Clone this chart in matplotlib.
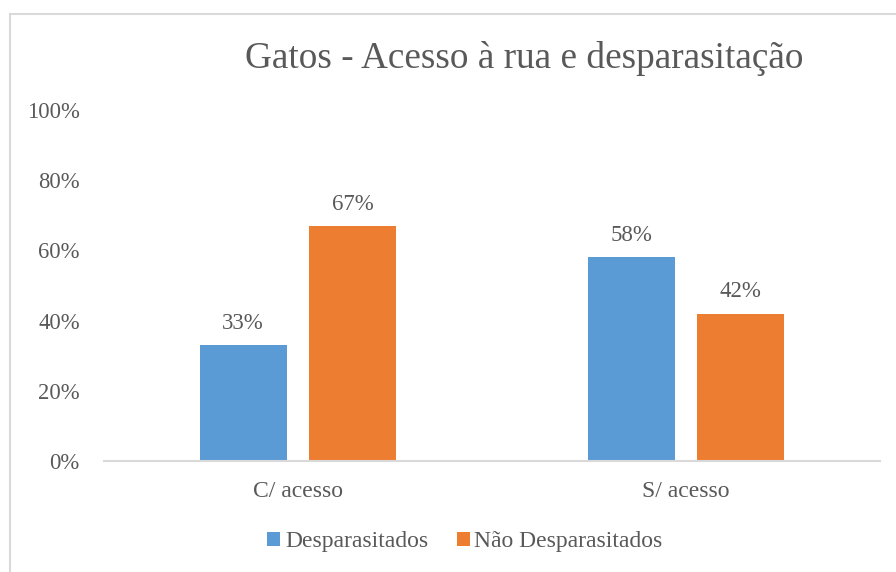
import matplotlib
matplotlib.use("Agg")
import matplotlib.pyplot as plt
from matplotlib.patches import Rectangle
import numpy as np

categories = ["C/ acesso", "S/ acesso"]
series_names = ["Desparasitados", "Não Desparasitados"]
desparasitados = [0.33, 0.58]
nao_desparasitados = [0.67, 0.42]
yticks = [0, 0.2, 0.4, 0.6, 0.8, 1.0]
ytick_labels = ["0%", "20%", "40%", "60%", "80%", "100%"]
title = "Gatos - Acesso à rua e desparasitação"

colors = ["#5B9BD5", "#ED7D31"]
text_color = "#595959"
line_color = "#D9D9D9"

plt.rcParams['font.family'] = ['Liberation Serif', 'DejaVu Serif']

W, H = 896, 572
fig = plt.figure(figsize=(W / 100, H / 100), dpi=100)

# chart border
fig.patches.append(Rectangle((9.5 / W, -0.1), 2, (H - 13.5) / H + 0.1,
                             transform=fig.transFigure, fill=False,
                             edgecolor=line_color, linewidth=1.5))

ax = fig.add_axes([104 / W, (H - 461) / H, (880 - 104) / W, (461 - 110) / H])
x = np.arange(len(categories))
bw = 0.224
off = 0.1415
b1 = ax.bar(x - off, desparasitados, bw, color=colors[0], label=series_names[0])
b2 = ax.bar(x + off, nao_desparasitados, bw, color=colors[1], label=series_names[1])

for bars, vals in ((b1, desparasitados), (b2, nao_desparasitados)):
    for r, v in zip(bars, vals):
        ax.annotate(f"{round(v * 100):d}%", (r.get_x() + r.get_width() / 2, v),
                    xytext=(0, 8), textcoords="offset points", ha="center",
                    va="bottom", fontsize=16.5, color=text_color)

ax.set_xlim(-0.5, len(categories) - 0.5)
ax.set_ylim(0, 1.0)
ax.set_yticks(yticks)
ax.set_yticklabels(ytick_labels, fontsize=16.3, color=text_color)
ax.set_xticks(x)
ax.set_xticklabels(categories, fontsize=17, color=text_color)
ax.tick_params(axis='y', length=0, pad=17.5)
ax.tick_params(axis='x', length=0, pad=14.5)
for s in ("top", "right", "left"):
    ax.spines[s].set_visible(False)
ax.spines["bottom"].set_color(line_color)
ax.spines["bottom"].set_linewidth(1.5)

fig.text(524 / W, 1 - 58 / H, title, ha="center", va="center",
         fontsize=26.8, color=text_color)

fig.legend(handles=[b1, b2], labels=series_names, loc="center",
           bbox_to_anchor=(465 / W, 1 - 542 / H), ncol=2, frameon=False,
           fontsize=17, labelcolor=text_color, handlelength=0.55,
           handleheight=0.55, handletextpad=0.2, columnspacing=1.2)

fig.savefig("out.png", dpi=100)
